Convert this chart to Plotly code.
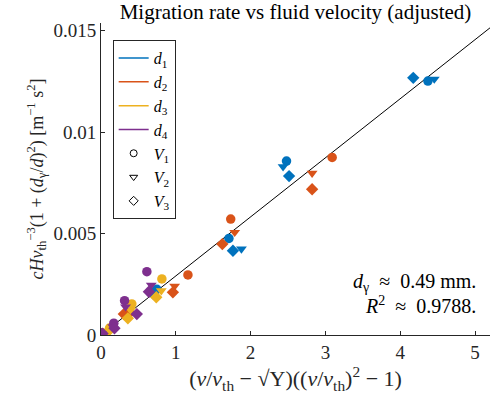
import plotly.graph_objects as go

# ---- data ----
colors = ["#0072BD", "#D95319", "#EDB120", "#7E2F8E"]
v_symbols = ["circle", "triangle-down", "diamond"]

# d1 (blue)
d1_V1_x = [4.37, 2.48, 1.71, 0.747]
d1_V1_y = [0.01251, 0.00857, 0.00476, 0.00225]
d1_V2_x = [4.455, 2.434, 1.877, 0.676]
d1_V2_y = [0.01261, 0.00829, 0.00424, 0.00212]
d1_V3_x = [4.174, 2.514, 1.764, 0.693]
d1_V3_y = [0.01267, 0.00783, 0.00415, 0.00205]

# d2 (orange)
d2_V1_x = [3.09, 1.734, 1.162, 0.38]
d2_V1_y = [0.00875, 0.00571, 0.00296, 0.00110]
d2_V2_x = [2.822, 1.787, 0.984, 0.38]
d2_V2_y = [0.00797, 0.00506, 0.00241, 0.00120]
d2_V3_x = [2.822, 1.622, 0.961, 0.305]
d2_V3_y = [0.00718, 0.00448, 0.00210, 0.00103]

# d3 (yellow)
d3_V1_x = [0.814, 0.412, 0.114, 0.047]
d3_V1_y = [0.00276, 0.00153, 0.00034, 0.00008]
d3_V2_x = [0.806, 0.395, 0.154, 0.020]
d3_V2_y = [0.00218, 0.00123, 0.00041, 0.00005]
d3_V3_x = [0.739, 0.359, 0.114, 0.033]
d3_V3_y = [0.00186, 0.00082, 0.00025, 0.00005]

# d4 (purple)
d4_V1_x = [0.613, 0.315, 0.171, 0.0]
d4_V1_y = [0.00312, 0.00169, 0.00058, 0.00011]
d4_V2_x = [0.672, 0.328, 0.158, 0.007]
d4_V2_y = [0.00246, 0.00139, 0.00041, 0.00005]
d4_V3_x = [0.640, 0.479, 0.180, 0.020]
d4_V3_y = [0.00213, 0.00103, 0.00033, 0.00007]

series = [
    [(d1_V1_x, d1_V1_y), (d1_V2_x, d1_V2_y), (d1_V3_x, d1_V3_y)],
    [(d2_V1_x, d2_V1_y), (d2_V2_x, d2_V2_y), (d2_V3_x, d2_V3_y)],
    [(d3_V1_x, d3_V1_y), (d3_V2_x, d3_V2_y), (d3_V3_x, d3_V3_y)],
    [(d4_V1_x, d4_V1_y), (d4_V2_x, d4_V2_y), (d4_V3_x, d4_V3_y)],
]

fit_slope = 0.00291
fit_x = [0.0, 5.2]
fit_y = [fit_slope * v for v in fit_x]

x_ticks = [0, 1, 2, 3, 4, 5]
y_ticks = [0, 0.005, 0.01, 0.015]
y_ticktext = ["0", "0.005", "0.01", "0.015"]

FONT = "Liberation Serif"
AX = "#262626"

fig = go.Figure()

# fit line
fig.add_trace(go.Scatter(x=fit_x, y=fit_y, mode="lines",
                         line=dict(color="black", width=1), showlegend=False,
                         hoverinfo="skip"))

# data
for ci, sets in enumerate(series):
    for vi, (xs, ys) in enumerate(sets):
        fig.add_trace(go.Scatter(x=xs, y=ys, mode="markers",
                                 marker=dict(symbol=v_symbols[vi], size=9.5,
                                             color=colors[ci], line=dict(width=0)),
                                 showlegend=False))

# legend entries
for ci in range(4):
    fig.add_trace(go.Scatter(x=[None], y=[None], mode="lines",
                             line=dict(color=colors[ci], width=1.5),
                             name=f"<i>d</i><sub>{ci+1}</sub>"))
for vi in range(3):
    fig.add_trace(go.Scatter(x=[None], y=[None], mode="markers",
                             marker=dict(symbol=v_symbols[vi] + "-open", size=7,
                                         color="black", line=dict(width=1)),
                             name=f"<i>V</i><sub>{vi+1}</sub>"))

fig.update_layout(
    width=492, height=399,
    margin=dict(l=101, r=2, t=23, b=64),
    paper_bgcolor="white", plot_bgcolor="white",
    font=dict(family=FONT, size=19, color=AX),
    title=dict(text="Migration rate vs fluid velocity (adjusted)",
               x=0.5, xref="paper", xanchor="center",
               y=1 - 12 / 399, yref="container", yanchor="middle",
               font=dict(family=FONT, size=21, color="black")),
    legend=dict(x=0.03, y=0.945, xanchor="left", yanchor="top",
                bgcolor="white", bordercolor=AX, borderwidth=1,
                font=dict(family=FONT, size=16, color="black"),
                tracegroupgap=0, itemwidth=30),
    showlegend=True,
)

fig.update_xaxes(range=[0, 5.2], tickvals=x_ticks, ticks="inside", ticklen=4,
                 tickcolor=AX, showline=True, linecolor=AX, linewidth=1,
                 showgrid=False, zeroline=False, mirror=False,
                 title=dict(text="(<i>v</i>/<i>v</i><sub>th</sub> − √Υ)((<i>v</i>/<i>v</i><sub>th</sub>)<sup>2</sup> − 1)",
                            font=dict(family=FONT, size=22, color=AX), standoff=7),
                 tickfont=dict(family=FONT, size=19, color=AX))
fig.update_yaxes(range=[0, 0.01537], tickvals=y_ticks, ticktext=y_ticktext,
                 ticks="inside", ticklen=4, tickcolor=AX, showline=True,
                 linecolor=AX, linewidth=1, showgrid=False, zeroline=False,
                 mirror=False,
                 title=dict(text="<i>cHv</i><sub>th</sub><sup>−3</sup>(1 + (<i>d</i><sub>γ</sub>/<i>d</i>)<sup>2</sup>) [m<sup>−1</sup> s<sup>2</sup>]",
                            font=dict(family=FONT, size=18, color=AX), standoff=5),
                 tickfont=dict(family=FONT, size=19, color=AX))

fig.add_annotation(xref="paper", yref="paper", x=(478 - 101) / 389, y=(335 - 282) / 312,
                   text="<i>d</i><sub>γ</sub>  ≈  0.49 mm.", showarrow=False,
                   xanchor="right", yanchor="middle",
                   font=dict(family=FONT, size=20, color="black"))
fig.add_annotation(xref="paper", yref="paper", x=(478 - 101) / 389, y=(335 - 305) / 312,
                   text="<i>R</i><sup>2</sup>  ≈  0.9788.", showarrow=False,
                   xanchor="right", yanchor="middle",
                   font=dict(family=FONT, size=20, color="black"))

fig.write_html("out.html")
